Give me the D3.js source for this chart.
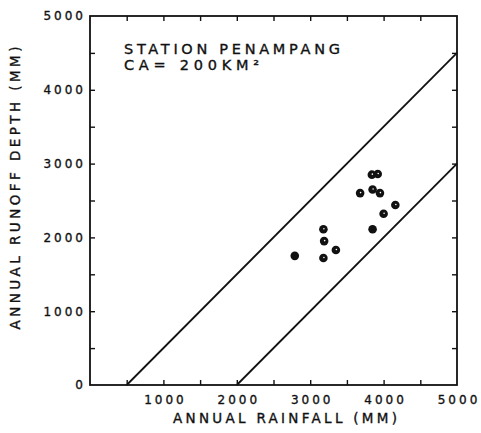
<!DOCTYPE html>
<html>
<head>
<meta charset="utf-8">
<script src="https://cdn.jsdelivr.net/npm/d3@7"></script>
<style>
  html, body { margin: 0; padding: 0; background: #fff; }
  svg { display: block; }
  text { font-family: "DejaVu Sans", "Liberation Sans", sans-serif; fill: #111; stroke: #111; stroke-width: 0.35px; }
</style>
</head>
<body>
<svg id="chart" width="481" height="433"></svg>
<script>
// ---- data ----
const rainfall = [3840, 3920, 3680, 3850, 3950, 4160, 4000, 3850, 3180, 3190, 3350, 2790, 3180];
const runoff   = [2850, 2860, 2600, 2650, 2600, 2440, 2320, 2110, 2110, 1950, 1830, 1750, 1720];
const marker   = ["o", "o", "o", "o", "o", "o", "o", "s", "o", "o", "o", "s", "o"];
// envelope lines (runoff = rainfall - loss)
const envelopeUpper = [[500, 0], [5000, 4500]];
const envelopeLower = [[2000, 0], [5000, 3000]];
const xTickLabels = [1000, 2000, 3000, 4000, 5000];
const yTickLabels = [0, 1000, 2000, 3000, 4000, 5000];
const minorTicks = [500, 1000, 1500, 2000, 2500, 3000, 3500, 4000, 4500];
const title1 = "STATION PENAMPANG";
const title2 = "CA= 200KM²";
const xTitle = "ANNUAL RAINFALL (MM)";
const yTitle = "ANNUAL RUNOFF DEPTH (MM)";

// ---- layout ----
const svg = d3.select("#chart");
const L = 90, R = 457, T = 16, B = 385;
const x = d3.scaleLinear().domain([0, 5000]).range([L, R]);
const y = d3.scaleLinear().domain([0, 5000]).range([B, T]);

// inward ticks on all four sides
const tickStyle = g => {
  g.select(".domain").remove();
  g.selectAll(".tick line").attr("stroke", "#111").attr("stroke-width", 1.4);
};
svg.append("g").attr("transform", `translate(0,${B})`)
  .call(d3.axisBottom(x).tickValues(minorTicks).tickSize(-5).tickFormat("")).call(tickStyle);
svg.append("g").attr("transform", `translate(0,${T})`)
  .call(d3.axisTop(x).tickValues(minorTicks).tickSize(-5).tickFormat("")).call(tickStyle);
svg.append("g").attr("transform", `translate(${L},0)`)
  .call(d3.axisLeft(y).tickValues(minorTicks).tickSize(-5).tickFormat("")).call(tickStyle);
svg.append("g").attr("transform", `translate(${R},0)`)
  .call(d3.axisRight(y).tickValues(minorTicks).tickSize(-5).tickFormat("")).call(tickStyle);

// frame
svg.append("rect")
  .attr("x", L).attr("y", T).attr("width", R - L).attr("height", B - T)
  .attr("fill", "none").attr("stroke", "#111").attr("stroke-width", 1.8);

// tick labels
const lblStyle = g => {
  g.select(".domain").remove();
  g.selectAll(".tick line").remove();
  g.selectAll(".tick text")
    .attr("font-size", 12)
    .attr("letter-spacing", "3px")
    .attr("fill", "#111");
};
svg.append("g").attr("transform", `translate(1.5,${B})`)
  .call(d3.axisBottom(x).tickValues(xTickLabels).tickSize(0).tickPadding(10).tickFormat(d3.format("d")))
  .call(lblStyle);
svg.append("g").attr("transform", `translate(${L},0)`)
  .call(d3.axisLeft(y).tickValues(yTickLabels).tickSize(0).tickPadding(4).tickFormat(d3.format("d")))
  .call(lblStyle);

// envelope lines
const line = d3.line().x(d => x(d[0])).y(d => y(d[1]));
[envelopeUpper, envelopeLower].forEach(seg => {
  svg.append("path").attr("d", line(seg))
    .attr("fill", "none").attr("stroke", "#111").attr("stroke-width", 1.8);
});

// points
const pts = rainfall.map((r, i) => ({ r, q: runoff[i], m: marker[i] }));
svg.append("g").selectAll("circle").data(pts).join("circle")
  .attr("cx", d => x(d.r)).attr("cy", d => y(d.q)).attr("r", 4.3)
  .attr("fill", "#111");
svg.append("g").selectAll("circle").data(pts.filter(d => d.m === "o")).join("circle")
  .attr("cx", d => x(d.r) + 0.5).attr("cy", d => y(d.q) - 0.5).attr("r", 0.8)
  .attr("fill", "#fff");

// annotation
svg.append("text").attr("x", 124).attr("y", 54)
  .attr("font-size", 14.5).attr("textLength", 216).attr("lengthAdjust", "spacing")
  .text(title1);
svg.append("text").attr("x", 124).attr("y", 70)
  .attr("font-size", 14.5).attr("textLength", 135).attr("lengthAdjust", "spacing")
  .text(title2);

// axis titles
svg.append("text").attr("x", 285).attr("y", 423).attr("text-anchor", "middle")
  .attr("font-size", 13.5).attr("textLength", 224).attr("lengthAdjust", "spacing")
  .text(xTitle);
svg.append("text")
  .attr("transform", "translate(20,188) rotate(-90)")
  .attr("text-anchor", "middle")
  .attr("font-size", 13.5).attr("textLength", 283).attr("lengthAdjust", "spacing")
  .text(yTitle);
</script>
</body>
</html>
